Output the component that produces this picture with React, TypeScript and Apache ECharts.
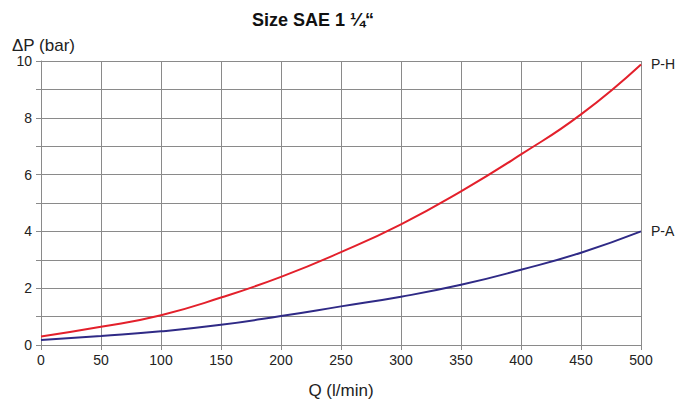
import React, { useEffect, useRef } from "react";
import * as echarts from "echarts";

const flowQ = [0, 50, 100, 150, 200, 250, 300, 350, 400, 450, 500];
const pressurePH = [0.3, 0.64, 1.05, 1.67, 2.4, 3.27, 4.25, 5.41, 6.71, 8.12, 9.88];
const pressurePA = [0.18, 0.32, 0.48, 0.71, 1.02, 1.36, 1.7, 2.12, 2.65, 3.25, 4.0];
const seriesNames = ["P-H", "P-A"];

export default function App() {
  const ref = useRef<HTMLDivElement>(null);
  useEffect(() => {
    if (!ref.current) return;
    const chart = echarts.init(ref.current, null, { renderer: "svg" });
    const font = "Liberation Sans, Arial, sans-serif";
    const gridColor = "#8a8a8a";
    chart.setOption({
      animation: false,
      backgroundColor: "#ffffff",
      grid: { left: 41, right: 48, top: 61, bottom: 58 },
      graphic: [
        {
          type: "text",
          x: 313,
          y: 20,
          style: {
            text: "Size SAE 1 ¼“",
            font: `bold 18px ${font}`,
            fill: "#111",
            align: "center",
            verticalAlign: "middle",
          },
        },
        {
          type: "text",
          x: 12,
          y: 45,
          style: {
            text: "ΔP (bar)",
            font: `17px ${font}`,
            fill: "#222",
            align: "left",
            verticalAlign: "middle",
          },
        },
        {
          type: "text",
          x: 341,
          y: 390,
          style: {
            text: "Q (l/min)",
            font: `17px ${font}`,
            fill: "#222",
            align: "center",
            verticalAlign: "middle",
          },
        },
      ],
      xAxis: {
        type: "value",
        min: 0,
        max: 500,
        interval: 50,
        axisLine: { show: true, lineStyle: { color: gridColor, width: 1 } },
        axisTick: { show: true, length: 5, lineStyle: { color: gridColor } },
        splitLine: { show: true, lineStyle: { color: gridColor, width: 1 } },
        axisLabel: { color: "#222", fontSize: 14, fontFamily: font, margin: 8 },
      },
      yAxis: {
        type: "value",
        min: 0,
        max: 10,
        interval: 1,
        axisLine: { show: true, lineStyle: { color: gridColor, width: 1 } },
        axisTick: { show: true, length: 5, lineStyle: { color: gridColor } },
        splitLine: { show: true, lineStyle: { color: gridColor, width: 1 } },
        axisLabel: {
          color: "#222",
          fontSize: 14,
          fontFamily: font,
          margin: 9,
          formatter: (v: number) => (v % 2 === 0 ? String(v) : ""),
        },
      },
      series: [
        {
          name: seriesNames[0],
          type: "line",
          smooth: true,
          symbol: "none",
          data: flowQ.map((q, i) => [q, pressurePH[i]]),
          lineStyle: { color: "#e3202b", width: 2 },
          endLabel: {
            show: true,
            formatter: seriesNames[0],
            color: "#222",
            fontSize: 14,
            fontFamily: font,
            offset: [2, 0],
          },
        },
        {
          name: seriesNames[1],
          type: "line",
          smooth: true,
          symbol: "none",
          data: flowQ.map((q, i) => [q, pressurePA[i]]),
          lineStyle: { color: "#2f2a86", width: 2 },
          endLabel: {
            show: true,
            formatter: seriesNames[1],
            color: "#222",
            fontSize: 14,
            fontFamily: font,
            offset: [2, 0],
          },
        },
      ],
    });
    return () => chart.dispose();
  }, []);
  return (
    <div
      ref={ref}
      style={{ position: "fixed", left: 0, top: 0, width: 689, height: 403 }}
    />
  );
}
